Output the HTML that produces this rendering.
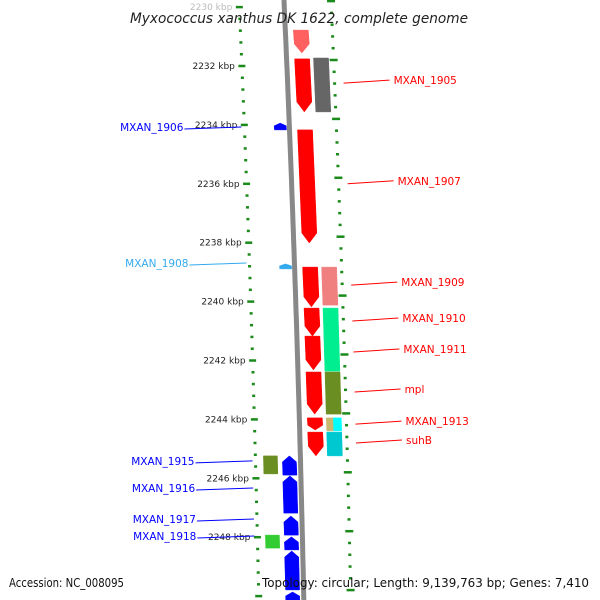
<!DOCTYPE html>
<html><head><meta charset="utf-8"><style>
html,body{margin:0;padding:0;background:#fff}
svg{display:block;font-family:"DejaVu Sans","Liberation Sans",sans-serif}
</style></head><body>
<svg id="chart" width="600" height="600" viewBox="0 0 600 600" xmlns="http://www.w3.org/2000/svg">
<g id="ticks"></g>
<path id="axis" fill="none" stroke="#888" stroke-width="5"/>
<g id="feats"></g>
<g id="labels"></g>
<text x="299" y="23" text-anchor="middle" font-size="14" font-style="italic" fill="#222" textLength="338" lengthAdjust="spacingAndGlyphs">Myxococcus xanthus DK 1622, complete genome</text>
<text x="9" y="587" font-size="12" fill="#111" textLength="115" lengthAdjust="spacingAndGlyphs">Accession: NC_008095</text>
<text x="262" y="587" font-size="12" fill="#111" textLength="327" lengthAdjust="spacingAndGlyphs">Topology: circular; Length: 9,139,763 bp; Genes: 7,410</text>
</svg>
<script>
// data (kbp)
const tickStart = 2230, tickEnd = 2250.2;
const majorKbp = [2230,2232,2234,2236,2238,2240,2242,2244,2246,2248];
const majorLabels = ["2230 kbp","2232 kbp","2234 kbp","2236 kbp","2238 kbp","2240 kbp","2242 kbp","2244 kbp","2246 kbp","2248 kbp"];
// forward strand genes (inner right track)
const fwdStart = [2230.78,2231.76,2234.17,2238.83,2240.22,2241.17,2242.39,2243.95,2244.43];
const fwdEnd   = [2231.56,2233.56,2238.01,2240.18,2241.17,2242.32,2243.82,2244.36,2245.24];
// forward outer track blocks
const outStart = [2231.73,2238.83,2240.22,2242.39,2243.95,2243.95,2244.43];
const outEnd   = [2233.56,2240.12,2242.36,2243.82,2244.39,2244.39,2245.24];
const outColor = ["#666666","#f08080","#00ee90","#6b8e23","#c8b870","#00ffff","#00c8d0"];
// reverse strand genes (inner left track)
const revStart = [2233.94,2238.72,2245.24,2245.92,2247.28,2247.99,2248.47,2249.86];
const revEnd   = [2234.17,2238.89,2245.89,2247.18,2247.93,2248.43,2249.79,2250.2];
const revColor = ["#0000ff","#33aaee","#0000ff","#0000ff","#0000ff","#0000ff","#0000ff","#0000ff"];
const revOutStart = [2245.24,2247.93];
const revOutEnd   = [2245.85,2248.37];
const revOutColor = ["#6b8e23","#33cc33"];
// labels
const leftNames = ["MXAN_1906","MXAN_1908","MXAN_1915","MXAN_1916","MXAN_1917","MXAN_1918"];
const leftKbp   = [2234.07,2238.69,2245.41,2246.33,2247.38,2247.96];
const leftColor = ["#0000ff","#33aaee","#0000ff","#0000ff","#0000ff","#0000ff"];
const rightNames = ["MXAN_1905","MXAN_1907","MXAN_1909","MXAN_1910","MXAN_1911","mpl","MXAN_1913","suhB"];
const rightKbp   = [2232.58,2236.0,2239.44,2240.66,2241.71,2243.07,2244.16,2244.8];

const NS="http://www.w3.org/2000/svg";
const Y=k=>66+(k-2232)*29.45;
const AX=y=>284+0.045*y-0.00002*y*y;
function mk(tag,attrs,parent){const e=document.createElementNS(NS,tag);for(const a in attrs)e.setAttribute(a,attrs[a]);parent.appendChild(e);return e;}
let d="";for(let y=0;y<=600;y+=10)d+=(y?"L":"M")+AX(y).toFixed(1)+" "+y;
document.getElementById('axis').setAttribute('d',d);
const tg=document.getElementById('ticks');
for(let i=0;;i++){const k=tickStart+i*0.4;if(k>tickEnd)break;
 const major=Math.abs(k-Math.round(k/2)*2)<0.01;
 const y=Y(k),x=AX(y);
 const lw=major?7:3;
 const l=mk('line',{x1:x-45-lw/2,x2:x-45+lw/2,y1:y,y2:y,stroke:'#1a8a1a','stroke-width':2.5},tg);
 
 
 const yr=y-6,xr=AX(yr)+47,rw=major?8:3;
 const r=mk('line',{x1:xr-rw/2,x2:xr+rw/2,y1:yr,y2:yr,stroke:'#1a8a1a','stroke-width':2.5},tg);
 
 
}
majorKbp.forEach((k,i)=>{const y=Y(k);const t=mk('text',{x:AX(y)-52,y:y+3,'text-anchor':'end','font-size':9,fill:k<2231?'#bbb':'#222'},tg);t.textContent=majorLabels[i];
 
 });
const fg=document.getElementById('feats');
function block(y1,y2,off1,off2,color,arrow,name){
 const xa=AX(y1),xb=AX(y2);let pts;
 if(arrow==='down'){const h=Math.min(10,(y2-y1)*0.4);
  pts=[[xa+off1,y1],[xa+off2,y1],[xb+off2,y2-h],[(xb*2+off1+off2)/2,y2],[xb+off1,y2-h]];}
 else if(arrow==='up'){const h=Math.min(6,(y2-y1)*0.4);
  pts=[[(xa*2+off1+off2)/2,y1],[xa+off2,y1+h],[xb+off2,y2],[xb+off1,y2],[xa+off1,y1+h]];}
 else pts=[[xa+off1,y1],[xa+off2,y1],[xb+off2,y2],[xb+off1,y2]];
 const p=mk('polygon',{points:pts.map(p=>p.map(v=>v.toFixed(1)).join(',')).join(' '),fill:color,stroke:color,'stroke-width':0.5},fg);
 
 
}
fwdStart.forEach((s,i)=>block(Y(s),Y(fwdEnd[i]),8,23,i===0?'#ff6060':'#ff0000','down','forward-gene'));
outStart.forEach((s,i)=>block(Y(s),Y(outEnd[i]),i===5?34:27,i===4?34:42,outColor[i],null,'feature-block'));
revStart.forEach((s,i)=>{const tiny=revEnd[i]-s<0.3;block(Y(s),Y(revEnd[i]),tiny?-15:-18,tiny?-3:-4,revColor[i],'up','reverse-gene');});
revOutStart.forEach((s,i)=>block(Y(s),Y(revOutEnd[i]),-37,-23,revOutColor[i],null,'reverse-block'));
const lg=document.getElementById('labels');
leftNames.forEach((n,i)=>{const y=Y(leftKbp[i]);const ex=AX(y)-48;
 const l=mk('line',{x1:ex-57,y1:y+2,x2:ex,y2:y,stroke:leftColor[i],'stroke-width':1},lg);
 
 
 const t=mk('text',{x:ex-58,y:y+4,'text-anchor':'end','font-size':10.5,fill:leftColor[i]},lg);t.textContent=n;
 
 });
rightNames.forEach((n,i)=>{const y=Y(rightKbp[i]);const sx=AX(y)+56;
 const l=mk('line',{x1:sx,y1:y,x2:sx+46,y2:y-3,stroke:'#ff0000','stroke-width':1},lg);
 
 
 const t=mk('text',{x:sx+50,y:y+1,'font-size':10.5,fill:'#ff0000'},lg);t.textContent=n;
 
 });
</script>
</body></html>
